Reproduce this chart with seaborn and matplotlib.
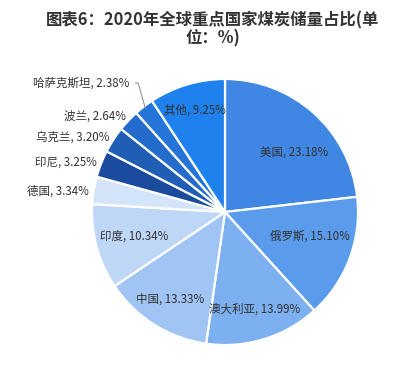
import numpy as np
import matplotlib
matplotlib.use("Agg")
import matplotlib.pyplot as plt
import seaborn as sns

# data
countries = ["美国", "俄罗斯", "澳大利亚", "中国", "印度", "德国", "印尼", "乌克兰", "波兰", "哈萨克斯坦", "其他"]
shares = [23.18, 15.10, 13.99, 13.33, 10.34, 3.34, 3.25, 3.20, 2.64, 2.38, 9.25]
colors = ["#3F87E3", "#5A9BEB", "#7DB0F0", "#A0C4F3", "#BED7F7", "#D4E4FA",
          "#1A4B9C", "#1F5EB4", "#246CCB", "#2575D9", "#1E81EE"]
title = "图表6：2020年全球重点国家煤炭储量占比(单\n位：%)"

sns.set_theme(style="white")
plt.rcParams["font.family"] = ["Noto Sans CJK SC", "DejaVu Sans"]

W, H = 412, 369
fig = plt.figure(figsize=(W / 100, H / 100), dpi=100)
fig.patch.set_facecolor("white")

# pie centre ~ (225, 212) px, radius ~ 133 px
cx, cy, r = 225, 212, 133
ax = fig.add_axes([(cx - r) / W, 1 - (cy + r) / H, 2 * r / W, 2 * r / H])

wedges, _ = ax.pie(shares, colors=colors, startangle=90, counterclock=False, radius=1,
                   wedgeprops=dict(edgecolor="white", linewidth=1.6))
ax.set_xlim(-1, 1)
ax.set_ylim(-1, 1)
ax.set_aspect("equal")
ax.axis("off")

fs = 8.3
tc = "#333333"
inside = {"美国": 0.68, "俄罗斯": 0.66, "澳大利亚": 0.76, "中国": 0.77, "印度": 0.71, "其他": 0.8}
inside_shift = {"美国": -8, "俄罗斯": 5}
for w, name, v in zip(wedges, countries, shares):
    mid = np.deg2rad((w.theta1 + w.theta2) / 2 + inside_shift.get(name, 0))
    label = f"{name}, {v:.2f}%"
    if name in inside:
        rr = inside[name]
        ax.text(rr * np.cos(mid), rr * np.sin(mid), label, ha="center", va="center",
                fontsize=fs, color=tc)
    elif name == "哈萨克斯坦":
        ax.annotate(label, xy=(0.98 * np.cos(mid), 0.98 * np.sin(mid)), xytext=(-0.72, 0.97),
                    ha="right", va="center", fontsize=fs, color=tc,
                    arrowprops=dict(arrowstyle="-", color="#888888", lw=0.7,
                                    shrinkA=2, shrinkB=0,
                                    connectionstyle="angle,angleA=0,angleB=106,rad=0"))
    else:
        rr = 1.08
        ax.text(rr * np.cos(mid) + 0.04, rr * np.sin(mid) - 0.02, label, ha="right", va="center",
                fontsize=fs, color=tc)

fig.text(213 / W, 1 - 29 / H, title, ha="center", va="center", fontsize=11.8,
         fontweight="bold", color="#333333", linespacing=1.0)

fig.savefig("out.png", dpi=100)
